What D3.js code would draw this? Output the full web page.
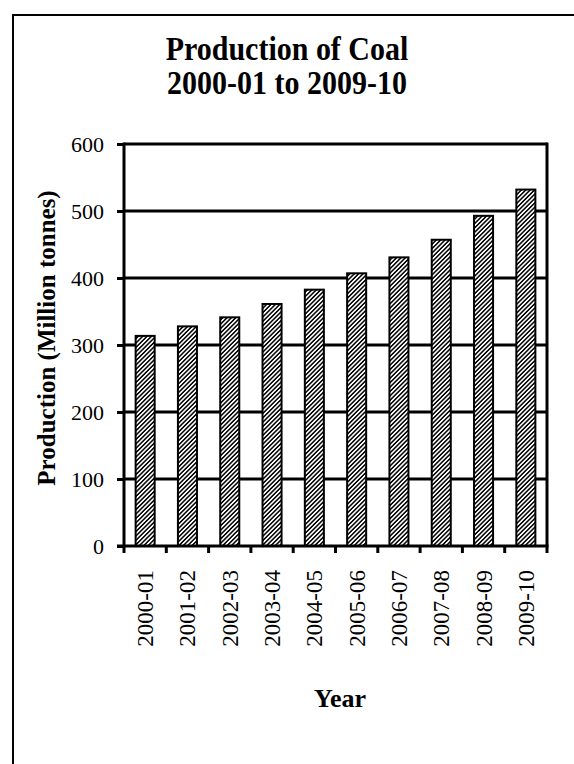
<!DOCTYPE html>
<html>
<head>
<meta charset="utf-8">
<script src="https://cdn.jsdelivr.net/npm/d3@7"></script>
<style>
  html, body { margin: 0; padding: 0; background: #fff; overflow: hidden; }
  svg { display: block; }
  text { font-family: "Liberation Serif", "Times New Roman", serif; fill: #000; }
</style>
</head>
<body>
<script>
// Coal production by fiscal year (million tonnes)
const years = ["2000-01", "2001-02", "2002-03", "2003-04", "2004-05",
               "2005-06", "2006-07", "2007-08", "2008-09", "2009-10"];
const production = [313.6, 327.8, 341.3, 361.2, 382.6, 407.0, 430.8, 457.1, 492.8, 532.0];
const yTicks = [0, 100, 200, 300, 400, 500, 600];
const titleLines = ["Production of Coal", "2000-01 to 2009-10"];

const W = 574, H = 764;
const plot = { left: 124, right: 547, top: 144, bottom: 546 };
const serif = "Liberation Serif, Times New Roman, serif";

const svg = d3.select("body").append("svg")
  .attr("width", W).attr("height", H);

// Diagonal hatch used for the bars
const defs = svg.append("defs");
defs.append("pattern")
  .attr("id", "hatch")
  .attr("patternUnits", "userSpaceOnUse")
  .attr("width", 3.1).attr("height", 3.1)
  .attr("patternTransform", "rotate(45)")
  .call(p => {
    p.append("rect").attr("width", 3.1).attr("height", 3.1).attr("fill", "#fff");
    p.append("line").attr("x1", 0.8).attr("y1", 0).attr("x2", 0.8).attr("y2", 3.1)
      .attr("stroke", "#000").attr("stroke-width", 1.5);
  });

// Outer chart frame (runs past the right and bottom edges)
svg.append("rect")
  .attr("x", 13).attr("y", 15).attr("width", 600).attr("height", 800)
  .attr("fill", "none").attr("stroke", "#000").attr("stroke-width", 2);

const x = d3.scaleBand().domain(years).range([plot.left, plot.right]).paddingInner(0).paddingOuter(0);
const y = d3.scaleLinear().domain([0, 600]).range([plot.bottom, plot.top]);

// Horizontal gridlines
svg.append("g").selectAll("line")
  .data(yTicks.filter(d => d > 0))
  .join("line")
  .attr("x1", plot.left).attr("x2", plot.right)
  .attr("y1", d => y(d)).attr("y2", d => y(d))
  .attr("stroke", "#000").attr("stroke-width", 3);

// Right border of the plot area
svg.append("line")
  .attr("x1", plot.right).attr("x2", plot.right)
  .attr("y1", plot.top - 1.5).attr("y2", plot.bottom)
  .attr("stroke", "#000").attr("stroke-width", 3);

// Bars
const barW = x.bandwidth() * 0.45;
svg.append("g").selectAll("rect")
  .data(years.map((yr, i) => ({ yr, v: production[i] })))
  .join("rect")
  .attr("x", d => x(d.yr) + (x.bandwidth() - barW) / 2)
  .attr("width", barW)
  .attr("y", d => y(d.v))
  .attr("height", d => y(0) - y(d.v))
  .attr("fill", "url(#hatch)")
  .attr("stroke", "#000").attr("stroke-width", 2);

// Y axis
const yAxis = svg.append("g")
  .attr("transform", `translate(${plot.left},0)`)
  .call(d3.axisLeft(y).tickValues(yTicks).tickSize(7).tickPadding(13).tickFormat(d3.format("d")))
  .attr("font-family", serif);
yAxis.select(".domain").attr("stroke", "#000").attr("stroke-width", 3)
  .attr("d", `M0,${plot.bottom + 1.5}V${plot.top - 1.5}`);
yAxis.selectAll(".tick line").attr("stroke", "#000").attr("stroke-width", 3);
yAxis.selectAll(".tick text").attr("font-size", 22).attr("font-family", serif);

// X axis with ticks at category boundaries
const xAxis = svg.append("g")
  .attr("transform", `translate(0,${plot.bottom})`)
  .attr("font-family", serif);
xAxis.append("line")
  .attr("x1", plot.left - 7).attr("x2", plot.right + 1.5)
  .attr("y1", 0).attr("y2", 0)
  .attr("stroke", "#000").attr("stroke-width", 3);
const bounds = years.map(d => x(d)).concat([plot.right]);
xAxis.selectAll("line.tick")
  .data(bounds)
  .join("line").attr("class", "tick")
  .attr("x1", d => d).attr("x2", d => d)
  .attr("y1", 0).attr("y2", 7)
  .attr("stroke", "#000").attr("stroke-width", 3);
xAxis.selectAll("text")
  .data(years)
  .join("text")
  .attr("transform", d => `translate(${x(d) + x.bandwidth() / 2 + 8},24) rotate(-90)`)
  .attr("text-anchor", "end")
  .attr("font-size", 23)
  .text(d => d);

// Titles
svg.append("g").selectAll("text")
  .data(titleLines)
  .join("text")
  .attr("transform", (d, i) => `translate(287,${60 + i * 34}) scale(1,1.1)`)
  .attr("text-anchor", "middle")
  .attr("font-size", 30).attr("font-weight", "bold")
  .text(d => d);

svg.append("text")
  .attr("transform", "translate(55,338) rotate(-90)")
  .attr("text-anchor", "middle")
  .attr("font-size", 25).attr("font-weight", "bold")
  .text("Production (Million tonnes)");

svg.append("text")
  .attr("x", 340).attr("y", 707)
  .attr("text-anchor", "middle")
  .attr("font-size", 26).attr("font-weight", "bold")
  .text("Year");
</script>
</body>
</html>
